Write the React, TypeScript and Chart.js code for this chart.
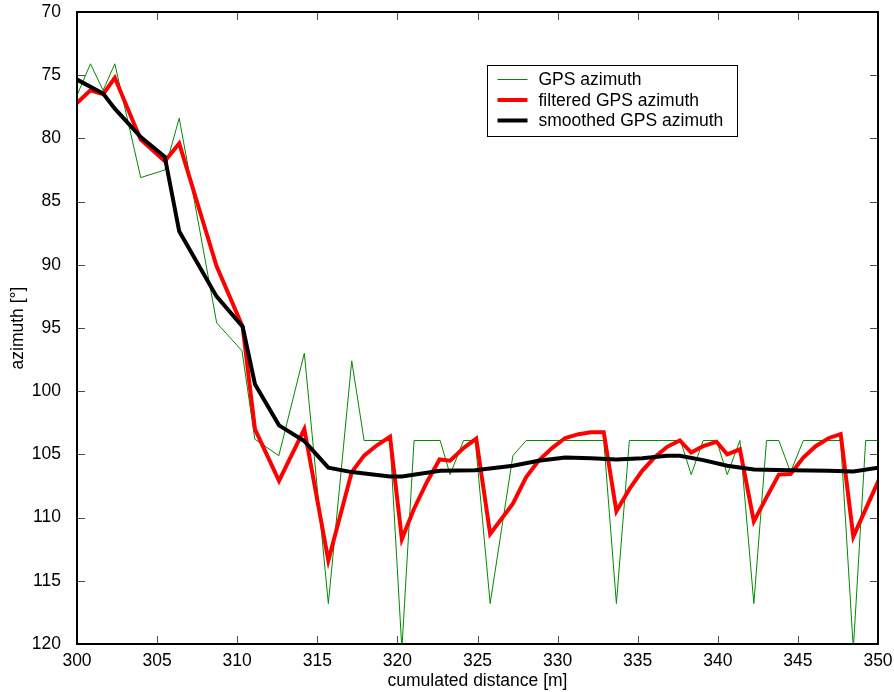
import React, { useEffect, useRef } from "react";
import { Chart, registerables } from "chart.js";
Chart.register(...registerables);

// ---- data ----
const gpsDist = [300, 300.84, 301.63, 302.36, 303.98, 305.48, 306.38, 308.72, 310.3, 311.1, 312.6, 314.19, 315.69, 317.15, 317.92, 319.54, 320.28, 321.04, 322.67, 323.29, 324.13, 324.86, 325.79, 327.21, 328.04, 332.88, 333.67, 334.48, 337.67, 338.34, 339.09, 339.92, 340.59, 341.38, 342.25, 343.04, 343.81, 344.54, 345.34, 347.67, 348.46, 349.23, 350.06];
const gpsAz = [76.6, 74.1, 76.2, 74.1, 83.1, 82.5, 78.4, 94.6, 96.8, 103.8, 105.1, 97.0, 116.8, 97.6, 103.9, 103.9, 120.4, 103.9, 103.9, 106.6, 103.9, 103.9, 116.8, 105.1, 103.9, 103.9, 116.8, 103.9, 103.9, 106.6, 103.9, 103.9, 106.6, 103.9, 116.8, 103.9, 103.9, 106.4, 103.9, 103.9, 120.4, 103.9, 103.9];

const filtDist = [300, 300.84, 301.63, 302.36, 303.98, 305.48, 306.38, 308.71, 310.34, 311.11, 312.61, 314.19, 315.69, 317.15, 317.92, 318.7, 319.54, 320.28, 321.04, 321.84, 322.63, 323.29, 324.13, 324.92, 325.79, 327.21, 328.04, 328.81, 329.65, 330.48, 331.31, 332.09, 332.88, 333.67, 334.48, 335.28, 336.04, 336.84, 337.63, 338.34, 339.09, 339.92, 340.59, 341.38, 342.25, 343.04, 343.81, 344.54, 345.34, 346.11, 346.94, 347.67, 348.46, 350.06];
const filtAz = [77.2, 76.2, 76.5, 75.2, 80.1, 81.8, 80.4, 90.1, 94.9, 103.0, 107.1, 103.0, 113.4, 106.4, 105.1, 104.3, 103.6, 111.7, 109.3, 107.2, 105.4, 105.5, 104.5, 103.75, 111.3, 108.9, 106.8, 105.5, 104.5, 103.7, 103.4, 103.25, 103.25, 109.5, 107.75, 106.3, 105.25, 104.4, 103.9, 104.85, 104.35, 104.0, 105.0, 104.6, 110.3, 108.4, 106.6, 106.55, 105.25, 104.35, 103.7, 103.4, 111.5, 107.0];

const smoothDist = [300, 301.63, 302.36, 303.98, 305.48, 306.38, 308.71, 310.34, 311.11, 312.61, 314.19, 315.69, 317.15, 319.54, 320.28, 322.67, 324.86, 327.21, 328.81, 330.48, 332.09, 333.67, 335.28, 336.84, 337.63, 339.09, 340.59, 342.25, 344.54, 346.94, 348.46, 350.06];
const smoothAz = [75.35, 76.45, 77.65, 79.9, 81.45, 87.35, 92.5, 94.9, 99.45, 102.7, 103.95, 106.05, 106.4, 106.75, 106.75, 106.3, 106.25, 105.9, 105.5, 105.25, 105.3, 105.4, 105.3, 105.1, 105.1, 105.45, 105.9, 106.2, 106.25, 106.3, 106.35, 106.05];

const seriesLabels = ["GPS azimuth", "filtered GPS azimuth", "smoothed GPS azimuth"];
const xTitle = "cumulated distance [m]";
const yTitle = "azimuth [°]";
const xMin = 300, xMax = 350, xStep = 5;
const yMin = 70, yMax = 120, yStep = 5;

const FONT = "'Liberation Sans', Arial, Helvetica, sans-serif";
const FS = 17.5;

const toPts = (xs: number[], ys: number[]) => xs.map((x, i) => ({ x, y: ys[i] }));

const framePlugin = {
  id: "frameTicks",
  afterDraw(chart: any) {
    const { ctx, chartArea: a } = chart;
    const xs = chart.scales.x, ys = chart.scales.y;
    ctx.save();
    ctx.strokeStyle = "rgba(0,0,0,0.7)";
    ctx.lineWidth = 1;
    const TL = 8;
    ctx.beginPath();
    xs.ticks.forEach((t: any) => {
      const px = Math.round(xs.getPixelForValue(t.value)) + 0.5;
      ctx.moveTo(px, a.bottom); ctx.lineTo(px, a.bottom - TL);
      ctx.moveTo(px, a.top); ctx.lineTo(px, a.top + TL);
    });
    ys.ticks.forEach((t: any) => {
      const py = Math.round(ys.getPixelForValue(t.value)) + 0.5;
      ctx.moveTo(a.left, py); ctx.lineTo(a.left + TL, py);
      ctx.moveTo(a.right, py); ctx.lineTo(a.right - TL, py);
    });
    ctx.stroke();
    ctx.strokeStyle = "#000";
    ctx.lineWidth = 2;
    ctx.strokeRect(a.left, a.top, a.right - a.left, a.bottom - a.top);

    // legend
    const bx = a.left + 410.5, by = a.top + 53.5, bw = 250, bh = 71;
    ctx.fillStyle = "#fff";
    ctx.fillRect(bx, by, bw, bh);
    ctx.lineWidth = 1;
    ctx.strokeStyle = "#000";
    ctx.strokeRect(bx, by, bw, bh);
    ctx.font = `${FS}px ${FONT}`;
    ctx.textBaseline = "middle";
    ctx.textAlign = "left";
    chart.data.datasets.forEach((ds: any, i: number) => {
      const ry = by + 14 + i * 20.5;
      ctx.strokeStyle = ds.borderColor;
      ctx.lineWidth = ds.borderWidth;
      ctx.beginPath();
      ctx.moveTo(bx + 10, ry); ctx.lineTo(bx + 40, ry);
      ctx.stroke();
      ctx.fillStyle = "#000";
      ctx.fillText(ds.label, bx + 51, ry + 1);
    });
    ctx.restore();
  },
};

export default function App() {
  const ref = useRef<HTMLCanvasElement>(null);
  useEffect(() => {
    if (!ref.current) return;
    const chart = new Chart(ref.current, {
      type: "line",
      data: {
        datasets: [
          { label: seriesLabels[0], data: toPts(gpsDist, gpsAz), borderColor: "#008a00", borderWidth: 1, pointRadius: 0, tension: 0, order: 2 },
          { label: seriesLabels[1], data: toPts(filtDist, filtAz), borderColor: "#ff0000", borderWidth: 4, pointRadius: 0, tension: 0, order: 1 },
          { label: seriesLabels[2], data: toPts(smoothDist, smoothAz), borderColor: "#000000", borderWidth: 4, pointRadius: 0, tension: 0, order: 0 },
        ],
      },
      options: {
        animation: false,
        responsive: false,
        devicePixelRatio: 1,
        parsing: false as any,
        layout: { padding: { left: 0, top: 12, right: 16, bottom: 0 } },
        plugins: { legend: { display: false }, tooltip: { enabled: false } },
        scales: {
          x: {
            type: "linear",
            min: xMin, max: xMax,
            grid: { display: false, drawTicks: false },
            border: { display: false },
            ticks: { stepSize: xStep, color: "#000", font: { family: FONT, size: FS }, padding: 7, maxRotation: 0 },
            title: { display: true, text: xTitle, color: "#000", font: { family: FONT, size: FS }, padding: { top: 0, bottom: 0 } },
            afterFit: (s: any) => { s.height = 48; s.paddingLeft = 0; s.paddingRight = 0; },
          },
          y: {
            type: "linear",
            reverse: true,
            min: yMin, max: yMax,
            grid: { display: false, drawTicks: false },
            border: { display: false },
            ticks: { stepSize: yStep, color: "#000", font: { family: FONT, size: FS }, padding: 16 },
            title: { display: true, text: yTitle, color: "#000", font: { family: FONT, size: FS }, padding: { top: 8, bottom: 0 } },
            afterFit: (s: any) => { s.width = 77; s.paddingTop = 0; s.paddingBottom = 0; },
          },
        },
      },
      plugins: [framePlugin],
    });
    return () => chart.destroy();
  }, []);
  return (
    <div style={{ position: "fixed", left: 0, top: 0, width: 894, height: 692, background: "#fff" }}>
      <canvas ref={ref} width={894} height={692} style={{ width: 894, height: 692 }} />
    </div>
  );
}
